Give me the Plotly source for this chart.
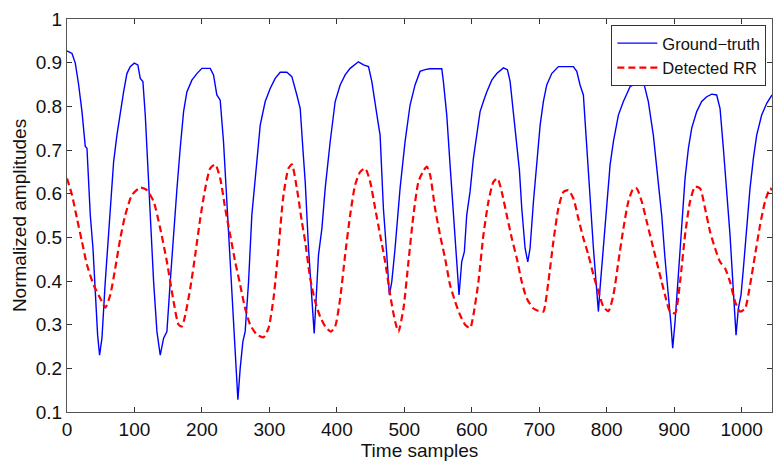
import plotly.graph_objects as go

gt_x = [0, 7.4, 12.3, 17.2, 22.2, 27.1, 29.6, 34.5, 38.5, 41.9, 45.4, 48.3, 51.8, 56.7, 61.7, 64.1,
        69.1, 74, 79, 83.9, 88.8, 93.7, 99.7, 105, 108.6, 112.5, 116, 119.5, 123.4, 128.4, 133.3,
        138.2, 143.2, 148.1, 153, 158, 163, 167.8, 172.8, 177.7, 185.1, 192.5, 199.9, 212.3, 217.2,
        222.1, 227.1, 232, 237, 241.9, 246.8, 250.8, 253.3, 256.7, 260.7, 264.1, 269.1, 274, 280.4,
        286.4, 293.8, 301.2, 308.6, 316, 325.9, 333.3, 340.7, 345.7, 349.6, 353.1, 358, 363, 366.4,
        369.3, 372.8, 377.8, 382.7, 390.1, 397.5, 404.9, 412.3, 419.7, 427.1, 432, 439.5, 446.9,
        451.8, 456.7, 461.7, 464.1, 469, 474, 477.9, 481.4, 486.3, 493.7, 501.1, 508.5, 515.9,
        523.3, 530.7, 538.2, 555.5, 557.9, 562.9, 567.8, 572.8, 577.7, 581.1, 585.1, 589, 592.5,
        597.4, 602.4, 607.3, 612.3, 617.2, 622.2, 629.6, 637, 646.9, 652.8, 656.8, 661.7, 666.6,
        670.6, 674.1, 679, 683, 686.4, 691.4, 696.3, 701.3, 706.1, 711.1, 718.5, 728.4, 738.3,
        750.6, 755.6, 760.5, 765.4, 770.4, 775.3, 780.3, 784.2, 787.7, 790.1, 795.1, 800, 805,
        809.9, 817.3, 824.7, 834.6, 844.4, 849.4, 854.3, 861.7, 869.1, 876.5, 881.5, 886.4, 891.4,
        895.3, 897.8, 901.3, 906.2, 911.2, 916.1, 921.1, 926, 933.4, 940.8, 948.2, 955.6, 963,
        968, 972.9, 977.9, 982.8, 986.3, 990.2, 991.7, 995.1, 999.1, 1002.6, 1007.5, 1012.4,
        1017.4, 1022.3, 1029.7, 1037.2, 1045]
gt_y = [0.927, 0.921, 0.899, 0.85, 0.788, 0.708, 0.704, 0.551, 0.475, 0.36, 0.276, 0.23, 0.269,
        0.398, 0.505, 0.566, 0.673, 0.734, 0.788, 0.833, 0.875, 0.891, 0.899, 0.895, 0.864, 0.857,
        0.78, 0.666, 0.551, 0.398, 0.284, 0.23, 0.269, 0.284, 0.398, 0.513, 0.612, 0.704, 0.788,
        0.833, 0.86, 0.875, 0.887, 0.887, 0.872, 0.826, 0.814, 0.719, 0.582, 0.46, 0.322, 0.208,
        0.128, 0.2, 0.261, 0.284, 0.398, 0.551, 0.666, 0.757, 0.811, 0.841, 0.864, 0.878, 0.878,
        0.868, 0.826, 0.795, 0.704, 0.627, 0.475, 0.36, 0.28, 0.36, 0.46, 0.52, 0.612, 0.719,
        0.811, 0.849, 0.872, 0.887, 0.895, 0.902, 0.895, 0.891, 0.857, 0.803, 0.757, 0.734, 0.566,
        0.46, 0.368, 0.398, 0.475, 0.612, 0.719, 0.803, 0.849, 0.88, 0.884, 0.886, 0.886, 0.857,
        0.78, 0.666, 0.551, 0.444, 0.368, 0.444, 0.467, 0.551, 0.604, 0.681, 0.734, 0.788, 0.811,
        0.833, 0.86, 0.875, 0.888, 0.884, 0.857, 0.788, 0.719, 0.654, 0.566, 0.475, 0.444, 0.475,
        0.582, 0.673, 0.757, 0.811, 0.849, 0.875, 0.891, 0.891, 0.891, 0.88, 0.849, 0.826, 0.704,
        0.597, 0.475, 0.398, 0.33, 0.383, 0.475, 0.566, 0.666, 0.719, 0.78, 0.811, 0.845, 0.853,
        0.864, 0.857, 0.811, 0.734, 0.627, 0.551, 0.452, 0.376, 0.3, 0.246, 0.307, 0.414, 0.536,
        0.635, 0.704, 0.75, 0.788, 0.811, 0.822, 0.828, 0.826, 0.795, 0.704, 0.612, 0.505, 0.414,
        0.33, 0.276, 0.337, 0.368, 0.429, 0.52, 0.612, 0.681, 0.734, 0.78, 0.807, 0.826]

# Detected RR (red dashed)
rr_x = [0, 7.4, 14.8, 22.2, 29.6, 39.5, 49.4, 56.7, 64.1, 71.5, 79, 86.4, 96.3, 108.6, 118.5,
        128.4, 138.2, 148.1, 158, 165.4, 170.3, 175.3, 182.7, 190.1, 197.5, 204.9, 212.3, 219.7,
        227.1, 234.5, 241.9, 249.3, 256.7, 264.1, 271.5, 281.4, 291.3, 298.7, 306.1, 313.5, 320.9,
        328.3, 333.3, 340.7, 348.1, 353.1, 360.5, 367.9, 375.3, 382.7, 391.1, 397.5, 404.9, 412.3,
        419.7, 427.1, 434.6, 442, 449.4, 456.8, 464.2, 471.6, 479, 486.4, 491.3, 498.7, 506.1,
        513.5, 520.9, 528.3, 533.3, 538.2, 545.6, 553, 560.4, 567.8, 575.3, 582.7, 590.1, 597.5,
        602.4, 609.8, 617.2, 624.7, 632.1, 638, 644.4, 651.8, 659.3, 666.7, 674.1, 681.5, 691.4,
        701.3, 706.1, 713.5, 720.9, 728.3, 735.8, 743.2, 750.6, 758, 765.4, 772.8, 780.3, 787.7,
        795.1, 802.5, 809.9, 817.3, 824.7, 832.1, 839.5, 844.4, 851.9, 859.3, 866.7, 874.1, 881.5,
        886.4, 893.8, 901.3, 908.7, 916.1, 923.5, 930.9, 938.4, 945.8, 953.2, 960.6, 968, 975.4,
        982.8, 990.2, 997.7, 1005.1, 1012.5, 1019.9, 1027.3, 1034.7, 1042.1, 1045]
rr_y = [0.635, 0.597, 0.543, 0.49, 0.437, 0.391, 0.36, 0.339, 0.368, 0.429, 0.498, 0.551, 0.597,
        0.614, 0.608, 0.582, 0.52, 0.444, 0.353, 0.3, 0.296, 0.322, 0.383, 0.46, 0.543, 0.612,
        0.658, 0.667, 0.635, 0.566, 0.505, 0.444, 0.391, 0.337, 0.3, 0.277, 0.271, 0.292, 0.36,
        0.475, 0.597, 0.658, 0.667, 0.612, 0.536, 0.49, 0.406, 0.353, 0.318, 0.296, 0.284, 0.296,
        0.36, 0.46, 0.551, 0.62, 0.65, 0.658, 0.627, 0.566, 0.505, 0.444, 0.368, 0.307, 0.284,
        0.337, 0.444, 0.551, 0.627, 0.652, 0.662, 0.643, 0.566, 0.505, 0.452, 0.391, 0.353, 0.322,
        0.3, 0.292, 0.322, 0.398, 0.505, 0.582, 0.627, 0.635, 0.604, 0.551, 0.498, 0.452, 0.398,
        0.36, 0.337, 0.33, 0.33, 0.398, 0.49, 0.566, 0.604, 0.608, 0.589, 0.543, 0.498, 0.46,
        0.414, 0.376, 0.341, 0.331, 0.368, 0.444, 0.52, 0.582, 0.612, 0.612, 0.582, 0.536, 0.49,
        0.444, 0.398, 0.368, 0.33, 0.326, 0.398, 0.505, 0.582, 0.616, 0.612, 0.566, 0.513, 0.475,
        0.444, 0.429, 0.398, 0.353, 0.33, 0.337, 0.391, 0.46, 0.528, 0.582, 0.612, 0.608]

x_ticks = [0, 100, 200, 300, 400, 500, 600, 700, 800, 900, 1000]
y_ticks = [0.1, 0.2, 0.3, 0.4, 0.5, 0.6, 0.7, 0.8, 0.9, 1.0]
y_tick_text = ["0.1", "0.2", "0.3", "0.4", "0.5", "0.6", "0.7", "0.8", "0.9", "1"]

FONT = "Liberation Sans, Arial, sans-serif"

fig = go.Figure()
fig.add_trace(go.Scatter(x=gt_x, y=gt_y, mode="lines", name="Ground\u2212truth",
                         line=dict(color="#0000ff", width=1.4)))
fig.add_trace(go.Scatter(x=rr_x, y=rr_y, mode="lines", name="Detected RR",
                         line=dict(color="#ff0000", width=2.2, dash="7px,4px", shape="spline",
                                   smoothing=0.6)))

axis_common = dict(showgrid=False, zeroline=False, showline=True, linecolor="#555555",
                   linewidth=1, mirror="ticks", ticks="inside", ticklen=5, tickcolor="#333333",
                   automargin=False,
                   tickfont=dict(family=FONT, size=19, color="#111111"))

# page body has an 8px default margin, so the figure is sized/offset to compensate
fig.update_layout(
    width=768, height=456,
    margin=dict(l=59, r=4, t=11, b=52),
    paper_bgcolor="white", plot_bgcolor="white",
    font=dict(family=FONT, size=19, color="#111111"),
    xaxis=dict(range=[0, 1045], tickvals=x_ticks,
               title=dict(text="Time samples", font=dict(family=FONT, size=19), standoff=2),
               **axis_common),
    yaxis=dict(range=[0.1, 1.0], tickvals=y_ticks, ticktext=y_tick_text,
               title=dict(text="Normalized amplitudes", font=dict(family=FONT, size=19), standoff=4),
               **axis_common),
    legend=dict(x=0.992, y=0.985, xanchor="right", yanchor="top", bgcolor="white",
                bordercolor="#333333", borderwidth=1, font=dict(family=FONT, size=16.5),
                tracegroupgap=0, itemwidth=40),
    showlegend=True,
)

fig.write_html("out.html")
